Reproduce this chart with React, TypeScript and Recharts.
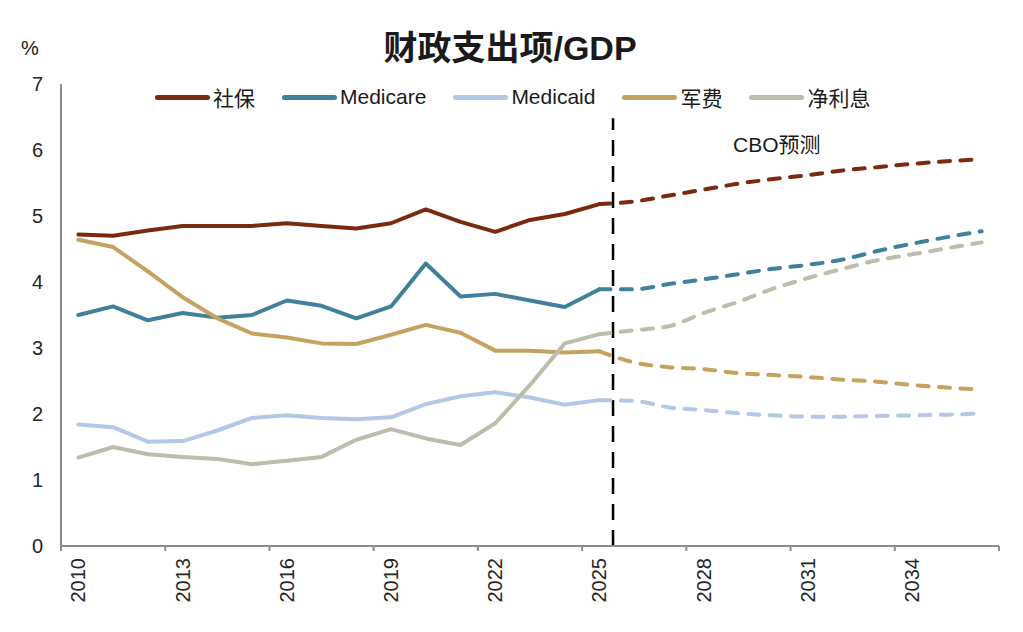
import { LineChart, Line, XAxis, YAxis, ReferenceLine } from "recharts";

// 财政支出项/GDP — 历史值(实线) + CBO预测(虚线)
const years = [
  2010, 2011, 2012, 2013, 2014, 2015, 2016, 2017, 2018, 2019, 2020, 2021, 2022, 2023,
  2024, 2025, 2026, 2027, 2028, 2029, 2030, 2031, 2032, 2033, 2034, 2035, 2036,
];
const histYears = years.slice(0, 16); // 2010-2025
const projYears = years.slice(15); // 2025-2036

const socialSecurity = [4.72, 4.7, 4.78, 4.85, 4.85, 4.85, 4.89, 4.85, 4.81, 4.89, 5.1, 4.91, 4.76, 4.94, 5.03, 5.18];
const medicare = [3.5, 3.63, 3.42, 3.53, 3.46, 3.5, 3.72, 3.64, 3.45, 3.63, 4.28, 3.78, 3.82, 3.72, 3.62, 3.89];
const medicaid = [1.84, 1.8, 1.58, 1.59, 1.75, 1.94, 1.98, 1.94, 1.92, 1.95, 2.15, 2.27, 2.33, 2.25, 2.14, 2.21];
const defense = [4.64, 4.53, 4.16, 3.77, 3.45, 3.22, 3.16, 3.07, 3.06, 3.2, 3.35, 3.23, 2.96, 2.96, 2.93, 2.95];
const netInterest = [1.34, 1.5, 1.39, 1.35, 1.32, 1.24, 1.29, 1.35, 1.61, 1.77, 1.63, 1.53, 1.86, 2.44, 3.07, 3.21];

const socialSecurityP = [5.18, 5.22, 5.31, 5.4, 5.49, 5.56, 5.62, 5.69, 5.74, 5.79, 5.83, 5.86];
const medicareP = [3.89, 3.89, 3.97, 4.04, 4.12, 4.2, 4.26, 4.34, 4.47, 4.58, 4.68, 4.77];
const medicaidP = [2.21, 2.2, 2.1, 2.06, 2.01, 1.98, 1.96, 1.96, 1.97, 1.98, 1.99, 2.01];
const defenseP = [2.95, 2.78, 2.71, 2.68, 2.62, 2.59, 2.56, 2.52, 2.49, 2.44, 2.4, 2.37];
const netInterestP = [3.21, 3.27, 3.33, 3.53, 3.7, 3.9, 4.06, 4.2, 4.33, 4.42, 4.51, 4.6];

const yTicks = [0, 1, 2, 3, 4, 5, 6, 7];
// 刻度线在类别边界上，标签在类别中心
const xBoundaries = [2009.5, 2012.5, 2015.5, 2018.5, 2021.5, 2024.5, 2027.5, 2030.5, 2033.5, 2036.5];
const forecastStart = 2025.39;

const series = [
  { key: "ss", name: "社保", color: "#7B2A10", hist: socialSecurity, proj: socialSecurityP },
  { key: "medicare", name: "Medicare", color: "#41809A", hist: medicare, proj: medicareP },
  { key: "medicaid", name: "Medicaid", color: "#B4C7E7", hist: medicaid, proj: medicaidP },
  { key: "defense", name: "军费", color: "#C6A260", hist: defense, proj: defenseP },
  { key: "interest", name: "净利息", color: "#BEBCAA", hist: netInterest, proj: netInterestP },
];

const data = years.map((year) => {
  const row: Record<string, number> = { year };
  series.forEach((s) => {
    const hi = histYears.indexOf(year);
    const pi = projYears.indexOf(year);
    if (hi >= 0) row[s.key] = s.hist[hi];
    if (pi >= 0) row[s.key + "P"] = s.proj[pi];
  });
  return row;
});

const FONT = '"Liberation Sans", Arial, "Noto Sans CJK SC", sans-serif';
const AXIS_GRAY = "#8C8C8C";
const HALF_STEP = 938 / 27 / 2;

function YearTick(props: any) {
  const { x, y, payload } = props;
  const v = payload.value as number;
  const cx = x + HALF_STEP;
  const ty = y + 12;
  return (
    <g>
      <line x1={x} y1={y} x2={x} y2={y + 5} stroke={AXIS_GRAY} strokeWidth={2} />
      {v < 2036 && (
        <text
          x={cx}
          y={ty}
          transform={`rotate(-90, ${cx}, ${ty})`}
          textAnchor="end"
          dominantBaseline="central"
          fontSize={20}
          fontFamily={FONT}
          fill="#262626"
        >
          {v + 0.5}
        </text>
      )}
    </g>
  );
}

export default function App() {
  return (
    <div
      style={{
        position: "absolute",
        left: 0,
        top: 0,
        width: 1023,
        height: 632,
        background: "#fff",
        overflow: "hidden",
        fontFamily: FONT,
        color: "#1a1a1a",
      }}
    >
      <LineChart width={1023} height={632} data={data} margin={{ top: 84, right: 24, bottom: 0, left: 0 }}>
        <XAxis
          dataKey="year"
          type="number"
          domain={[2009.5, 2036.5]}
          ticks={xBoundaries}
          interval={0}
          height={86}
          tickSize={0}
          tickMargin={0}
          tickLine={false}
          axisLine={{ stroke: AXIS_GRAY, strokeWidth: 2 }}
          tick={<YearTick />}
        />
        <YAxis
          domain={[0, 7]}
          ticks={yTicks}
          width={61}
          tickLine={false}
          tickSize={0}
          tickMargin={18}
          axisLine={{ stroke: AXIS_GRAY, strokeWidth: 2 }}
          tick={{ fontSize: 20, fontFamily: FONT, fill: "#262626" }}
        />
        <ReferenceLine
          segment={[
            { x: forecastStart, y: 0 },
            { x: forecastStart, y: 6.48 },
          ]}
          stroke="#000"
          strokeWidth={2.5}
          strokeDasharray="16 10"
        />
        {series.map((s) => (
          <Line
            key={s.key}
            dataKey={s.key}
            type="linear"
            stroke={s.color}
            strokeWidth={4}
            strokeLinejoin="round"
            strokeLinecap="round"
            dot={false}
            activeDot={false}
            isAnimationActive={false}
          />
        ))}
        {series.map((s) => (
          <Line
            key={s.key + "P"}
            dataKey={s.key + "P"}
            type="monotone"
            stroke={s.color}
            strokeWidth={4}
            strokeLinecap="round"
            strokeDasharray="11 10.4"
            dot={false}
            activeDot={false}
            isAnimationActive={false}
          />
        ))}
      </LineChart>

      <div
        style={{
          position: "absolute",
          left: 0,
          width: 1020,
          top: 27,
          textAlign: "center",
          fontSize: 34,
          fontWeight: "bold",
          lineHeight: "42px",
        }}
      >
        财政支出项/GDP
      </div>
      <div style={{ position: "absolute", left: 21, top: 36, fontSize: 20, lineHeight: "24px" }}>%</div>
      <div style={{ position: "absolute", left: 733, top: 132, fontSize: 21, lineHeight: "26px" }}>CBO预测</div>

      <div
        style={{
          position: "absolute",
          left: 155,
          top: 84,
          height: 26,
          display: "flex",
          alignItems: "center",
          gap: 27,
          fontSize: 21,
        }}
      >
        {series.map((s) => (
          <span key={s.key} style={{ display: "flex", alignItems: "center", gap: 3 }}>
            <span style={{ display: "inline-block", width: 55, height: 5, borderRadius: 3, background: s.color }} />
            {s.name}
          </span>
        ))}
      </div>
    </div>
  );
}
